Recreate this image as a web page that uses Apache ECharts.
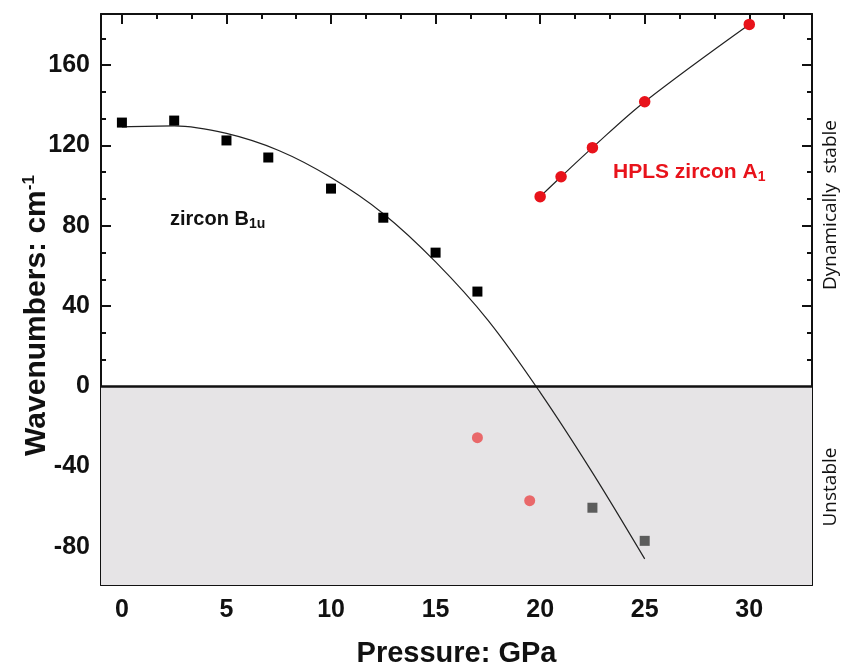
<!DOCTYPE html>
<html>
<head>
<meta charset="utf-8">
<script src="https://cdn.jsdelivr.net/npm/echarts@6/dist/echarts.min.js"></script>
<style>
  html, body { margin: 0; padding: 0; background: #fff; }
  #chart { width: 842px; height: 671px; }
</style>
</head>
<body>
<div id="chart"></div>
<script>
// zircon B1u, calculated points
const b1uPressure = [0, 2.5, 5, 7, 10, 12.5, 15, 17]
const b1uWave = [131.4, 132.4, 122.5, 114, 98.5, 84, 66.6, 47.2]
// zircon B1u, imaginary (unstable) points
const b1uUnstablePressure = [22.5, 25]
const b1uUnstableWave = [-60.5, -77]
// fitted curve through B1u
const fitPressure = [0, 2.5, 5, 7.5, 10, 12.5, 15, 17.5, 20, 22.5, 25]
const fitWave = [129.3, 129.8, 126, 117.5, 104, 86, 62, 33, -3, -43, -86]
// HPLS zircon A1
const a1Pressure = [20, 21, 22.5, 25, 30]
const a1Wave = [94.5, 104.4, 118.9, 141.8, 180.3]
// HPLS zircon, unstable points
const a1UnstablePressure = [17, 19.5]
const a1UnstableWave = [-25.6, -57]

// tick labels
const xTicks = [0, 5, 10, 15, 20, 25, 30]
const xMinorTicks = [1.667, 3.333, 6.667, 8.333, 11.667, 13.333, 16.667, 18.333, 21.667, 23.333, 26.667, 28.333, 31.667]
const yTicks = [-80, -40, 0, 40, 80, 120, 160]
const yMinorTicks = [-93.333, -66.667, -53.333, -26.667, -13.333, 13.333, 26.667, 53.333, 66.667, 93.333, 106.667, 133.333, 146.667, 173.333]

const pairs = (xs, ys) => xs.map((x, i) => [x, ys[i]])

const X_MIN = -1
const X_MAX = 33
const Y_MIN = -99
const Y_MAX = 185.5

const FONT = '"Liberation Sans", Arial, sans-serif'
const tickFont = {
    fontFamily: FONT,
    fontWeight: 'bold',
    fontSize: 25,
    color: '#111'
}
const lineStyle = { color: '#111', width: 2 }

const makeX = (position, values, len, withLabel, showLine) => ({
    type: 'value',
    position,
    min: X_MIN,
    max: X_MAX,
    axisLine: { show: showLine, onZero: false, lineStyle },
    axisTick: { show: true, inside: true, length: len, customValues: values, lineStyle: { color: '#111', width: 2 } },
    axisLabel: withLabel ? Object.assign({ customValues: values, margin: 13 }, tickFont) : { show: false },
    splitLine: { show: false }
})
const makeY = (position, values, len, withLabel, showLine) => ({
    type: 'value',
    position,
    min: Y_MIN,
    max: Y_MAX,
    axisLine: { show: showLine, onZero: false, lineStyle },
    axisTick: { show: true, inside: true, length: len, customValues: values, lineStyle: { color: '#111', width: 2 } },
    axisLabel: withLabel ? Object.assign({ customValues: values, margin: 11 }, tickFont) : { show: false },
    splitLine: { show: false }
})

const xAxis = [
    makeX('bottom', xTicks, 10, true, true),
    makeX('top', xTicks, 10, false, true),
    makeX('bottom', xMinorTicks, 5, false, false),
    makeX('top', xMinorTicks, 5, false, false)
]
xAxis[0].name = 'Pressure: GPa'
xAxis[0].nameLocation = 'middle'
xAxis[0].nameGap = 54
xAxis[0].nameMoveOverlap = false
xAxis[0].nameTextStyle = { fontFamily: FONT, fontWeight: 'bold', fontSize: 29, color: '#111' }

const yAxis = [
    makeY('left', yTicks, 10, true, true),
    makeY('right', yTicks, 10, false, true),
    makeY('left', yMinorTicks, 5, false, false),
    makeY('right', yMinorTicks, 5, false, false)
]
yAxis[0].name = '{a|Wavenumbers: cm}{s|-1}'
yAxis[0].nameLocation = 'middle'
yAxis[0].nameGap = 48
yAxis[0].nameMoveOverlap = false
yAxis[0].nameTextStyle = {
    padding: [0, 32, 0, 0],
    rich: {
        a: { fontFamily: FONT, fontWeight: 'bold', fontSize: 30, color: '#111' },
        s: { fontFamily: FONT, fontWeight: 'bold', fontSize: 17, color: '#111', padding: [0, 0, 15, 0] }
    }
}

const chart = echarts.init(document.getElementById('chart'), null, { renderer: 'canvas' })
chart.setOption({
    animation: false,
    grid: { left: 101, right: 30, top: 14, bottom: 86, outerBoundsMode: 'none' },
    xAxis,
    yAxis,
    series: [
        {
            // unstable band and the zero line
            type: 'line',
            data: [],
            silent: true,
            markArea: {
                silent: true,
                itemStyle: { color: '#e6e4e6' },
                data: [[{ yAxis: Y_MIN }, { yAxis: 0 }]]
            },
            markLine: {
                silent: true,
                symbol: 'none',
                label: { show: false },
                lineStyle: { color: '#111', width: 2.5, type: 'solid' },
                data: [{ yAxis: 0 }]
            }
        },
        {
            type: 'line',
            data: pairs(fitPressure, fitWave),
            smooth: 0.35,
            showSymbol: false,
            lineStyle: { color: '#222', width: 1.2 },
            z: 3
        },
        {
            type: 'line',
            data: pairs(a1Pressure, a1Wave),
            smooth: 0.35,
            showSymbol: false,
            lineStyle: { color: '#222', width: 1.2 },
            z: 3
        },
        {
            type: 'scatter',
            data: pairs(b1uPressure, b1uWave),
            symbol: 'rect',
            symbolSize: 10,
            itemStyle: { color: '#000', opacity: 1 },
            z: 4
        },
        {
            type: 'scatter',
            data: pairs(b1uUnstablePressure, b1uUnstableWave),
            symbol: 'rect',
            symbolSize: 10,
            itemStyle: { color: '#5c5c5c', opacity: 1 },
            z: 4
        },
        {
            type: 'scatter',
            data: pairs(a1Pressure, a1Wave),
            symbol: 'circle',
            symbolSize: 11.5,
            itemStyle: { color: '#e8131b', opacity: 1 },
            z: 4
        },
        {
            type: 'scatter',
            data: pairs(a1UnstablePressure, a1UnstableWave),
            symbol: 'circle',
            symbolSize: 11,
            itemStyle: { color: '#e9686a', opacity: 1 },
            z: 4
        }
    ],
    graphic: [
        {
            type: 'text',
            left: 170,
            top: 209,
            style: {
                text: '{a|zircon B}{s|1u}',
                rich: {
                    a: { fontFamily: FONT, fontWeight: 'bold', fontSize: 20, fill: '#111' },
                    s: { fontFamily: FONT, fontWeight: 'bold', fontSize: 14, fill: '#111', padding: [10, 0, 0, 0] }
                }
            }
        },
        {
            type: 'text',
            left: 613,
            top: 162,
            style: {
                text: '{a|HPLS zircon A}{s|1}',
                rich: {
                    a: { fontFamily: FONT, fontWeight: 'bold', fontSize: 21, fill: '#e8131b' },
                    s: { fontFamily: FONT, fontWeight: 'bold', fontSize: 14, fill: '#e8131b', padding: [10, 0, 0, 0] }
                }
            }
        },
        {
            type: 'text',
            x: 831,
            y: 205,
            rotation: Math.PI / 2,
            style: {
                text: 'Dynamically  stable',
                fontFamily: '"Open Sans", "Noto Sans", sans-serif',
                fontSize: 19,
                fill: '#111',
                align: 'center',
                verticalAlign: 'middle'
            }
        },
        {
            type: 'text',
            x: 831,
            y: 487,
            rotation: Math.PI / 2,
            style: {
                text: 'Unstable',
                fontFamily: '"Open Sans", "Noto Sans", sans-serif',
                fontSize: 19,
                fill: '#111',
                align: 'center',
                verticalAlign: 'middle'
            }
        }
    ]
})
</script>
</body>
</html>
